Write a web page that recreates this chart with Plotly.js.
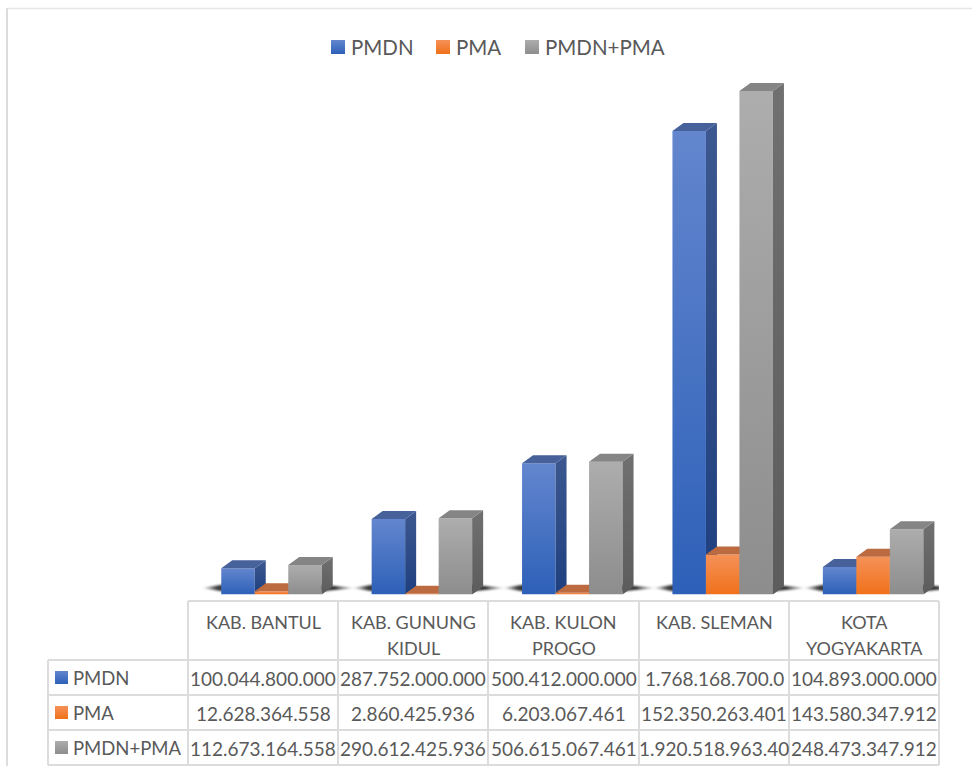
<!DOCTYPE html>
<html><head><meta charset="utf-8">
<script src="https://cdn.plot.ly/plotly-3.0.1.min.js"></script>
<style>html,body{margin:0;padding:0;background:#fff}#chart{width:972px;height:766px}</style>
</head><body><div id="chart"></div>
<script>
const categories = ["KAB. BANTUL","KAB. GUNUNG<br>KIDUL","KAB. KULON<br>PROGO","KAB. SLEMAN","KOTA<br>YOGYAKARTA"];
const seriesNames = ["PMDN","PMA","PMDN+PMA"];
const pmdn = [100044800000,287752000000,500412000000,1768168700000,104893000000];
const pma = [12628364558,2860425936,6203067461,152350263401,143580347912];
const pmdnPma = [112673164558,290612425936,506615067461,1920518963401,248473347912];
const pmdnLabels = ["100.044.800.000","287.752.000.000","500.412.000.000","1.768.168.700.0","104.893.000.000"];
const pmaLabels = ["12.628.364.558","2.860.425.936","6.203.067.461","152.350.263.401","143.580.347.912"];
const pmdnPmaLabels = ["112.673.164.558","290.612.425.936","506.615.067.461","1.920.518.963.40","248.473.347.912"];

const W=972,H=766;
const px=x=>x/W, py=y=>1-y/H;
const FONT='Lato, sans-serif', TXT='#595959', GRID='#dcdcdc';
const plotL=188,plotR=939,plotB=594.5,plotT=60;
const catPx=150.4, cat0=271.5, yScale=0.2622e-9; // px per category / per rupiah
const xRange=[(plotL-cat0)/catPx,(plotR-cat0)/catPx];
const yRange=[0,(plotB-plotT)/yScale];
const barW=33.5/catPx, depthX=11/catPx, depthY=8/yScale;
const xs=categories.map((_,i)=>i);

const values=[pmdn,pma,pmdnPma];
const palette=[
 {front:'#3f6cc4',frontG:['#6386ce','#2d60b8'],side:'#2a4a8c',sideG:['#3d5890','#1e3f7f'],top:'#47619b'},
 {front:'#f27d2e',frontG:['#f59158','#f0711a'],side:'#a85a2c',sideG:['#b06036','#9a5020'],top:'#bb6b3f'},
 {front:'#9d9d9d',frontG:['#adadad','#8d8d8d'],side:'#666666',sideG:['#707070','#5c5c5c'],top:'#858585'}
];
const rgb=h=>{const n=parseInt(h.slice(1),16);return `rgb(${n>>16}, ${(n>>8)&255}, ${n&255})`};

const traces=[];
values.forEach((vals,s)=>{
  const sfx=s===0?'':String(s+1);
  const xa='x'+sfx, ya='y'+sfx, off=(s-1.5)*barW;
  traces.push({type:'bar',x:xs,y:vals,width:barW,offset:off,name:seriesNames[s],
    xaxis:xa,yaxis:ya,marker:{color:palette[s].front,line:{width:0}},showlegend:false,
    customdata:categories,hovertemplate:'%{customdata}: %{y}<extra>'+seriesNames[s]+'</extra>'});
  vals.forEach((v,i)=>{
    const l=i+off,r=l+barW;
    traces.push({type:'scatter',mode:'none',fill:'toself',fillcolor:palette[s].side,hoverinfo:'skip',showlegend:false,xaxis:xa,yaxis:ya,
      x:[r,r+depthX,r+depthX,r,r],y:[0,depthY,v+depthY,v,0]});
    traces.push({type:'scatter',mode:'none',fill:'toself',fillcolor:palette[s].top,hoverinfo:'skip',showlegend:false,xaxis:xa,yaxis:ya,
      x:[l,l+depthX,r+depthX,r,l],y:[v,v+depthY,v+depthY,v,v]});
  });
});

const shadowL='#030507', shadowR='#030508';
const shapes=[];
// ground shadows either side of each bar group, in data coordinates
xs.forEach(i=>{
  const ym=6.5/yScale,h=3.5/yScale;
  const wedge=(xa,xb,c)=>shapes.push({type:'path',layer:'below',xref:'x',yref:'y',fillcolor:c,line:{width:0},
    path:`M ${xa} ${ym} L ${xb} ${ym+h} L ${xb} ${ym-h} Z`});
  wedge(i-70/catPx,i-48/catPx,shadowL);
  wedge(i+84/catPx,i+48/catPx,shadowR);
});
const hline=(x0,x1,y)=>shapes.push({type:'line',xref:'paper',yref:'paper',x0:px(x0),x1:px(x1),y0:py(y),y1:py(y),line:{color:GRID,width:2}});
const vline=(x,y0,y1)=>shapes.push({type:'line',xref:'paper',yref:'paper',x0:px(x),x1:px(x),y0:py(y0),y1:py(y1),line:{color:GRID,width:2}});
// outer chart frame
vline(7,8,766); shapes.push({type:'line',xref:'paper',yref:'paper',x0:px(7),x1:px(972),y0:py(8.5),y1:py(8.5),line:{color:'#e6e6e6',width:1.5}});
// data table grid
const colX=[188,338,488,639,789,939], rowY=[601,660,695,730,765];
hline(188,939,rowY[0]);
rowY.slice(1).forEach(y=>hline(48,939,y));
colX.forEach(x=>vline(x,601,765));
vline(48,660,765);

const annotations=[];
const txt=(x,y,t,size,xanchor)=>annotations.push({xref:'paper',yref:'paper',x:px(x),y:py(y),text:t,showarrow:false,
  xanchor:xanchor||'center',yanchor:'middle',font:{family:FONT,size:size,color:TXT},align:'center'});
const swatch=(x0,y0,sz,color)=>shapes.push({type:'rect',xref:'paper',yref:'paper',x0:px(x0),x1:px(x0+sz),y0:py(y0),y1:py(y0+sz),fillcolor:color,line:{width:0}});

// legend on top
const legX=[331,436,525];
seriesNames.forEach((n,s)=>{swatch(legX[s],40,14,palette[s].front);txt(legX[s]+18,46.5,n,20.5,'left');});

// table header
const headY=[622,648];
categories.forEach((c,i)=>{
  const cx=(colX[i]+colX[i+1])/2;
  c.split('<br>').forEach((line,k)=>txt(cx,headY[k],line,18));
});
// table rows
const labels=[pmdnLabels,pmaLabels,pmdnPmaLabels], rowC=[678,713,748];
seriesNames.forEach((n,s)=>{
  swatch(55,rowC[s]-7,13,palette[s].front);
  txt(71,rowC[s],n,18.5,'left');
  labels[s].forEach((t,i)=>txt((colX[i]+colX[i+1])/2,rowC[s],t,19));
});

const dom=[px(plotL),px(plotR)], domY=[py(plotB),py(plotT)];
const ax=()=>({domain:dom,range:xRange,visible:false,fixedrange:true});
const ay=()=>({domain:domY,range:yRange,visible:false,fixedrange:true});
const layout={width:W,height:H,margin:{l:0,r:0,t:0,b:0},paper_bgcolor:'#fff',plot_bgcolor:'rgba(0,0,0,0)',
  barmode:'overlay',showlegend:false,shapes,annotations,
  xaxis:ax(),yaxis:ay(),
  xaxis2:Object.assign(ax(),{overlaying:'x',anchor:'y2'}),yaxis2:Object.assign(ay(),{overlaying:'y',anchor:'x2'}),
  xaxis3:Object.assign(ax(),{overlaying:'x',anchor:'y3'}),yaxis3:Object.assign(ay(),{overlaying:'y',anchor:'x3'})};

Plotly.newPlot('chart',traces,layout,{displayModeBar:false,staticPlot:true}).then(gd=>{
  // Office-style soft gradients on the rendered faces
  const svg=gd.querySelector('svg.main-svg');
  let defs=svg.querySelector('defs');
  const NS='http://www.w3.org/2000/svg';
  const map={}; let n=0;
  const grad=(base,stops,horizontal)=>{
    const id='fg'+(n++), g=document.createElementNS(NS,'linearGradient');
    g.setAttribute('id',id);g.setAttribute('x1','0');g.setAttribute('y1','0');
    g.setAttribute('x2',horizontal?'1':'0');g.setAttribute('y2',horizontal?'0':'1');
    stops.forEach(([o,c,a])=>{const st=document.createElementNS(NS,'stop');st.setAttribute('offset',o);st.setAttribute('stop-color',c);st.setAttribute('stop-opacity',a==null?1:a);g.appendChild(st);});
    defs.appendChild(g);map[rgb(base)]=id;
  };
  palette.forEach(p=>{
    grad(p.front,[[0,p.frontG[0]],[1,p.frontG[1]]]);
    grad(p.side,[[0,p.sideG[0]],[1,p.sideG[1]]]);
  });
  grad(shadowL,[[0,'#333',0],[0.7,'#333',0.95],[1,'#333',1]],true);
  grad(shadowR,[[0,'#333',1],[0.45,'#333',1],[1,'#333',0]],true);
  gd.querySelectorAll('path').forEach(p=>{
    const f=p.style.fill;
    if(map[f]) p.style.fill='url(#'+map[f]+')';
    if(f===rgb(shadowL)||f===rgb(shadowR)) p.style.filter='blur(0.8px)';
  });
});
</script></body></html>
